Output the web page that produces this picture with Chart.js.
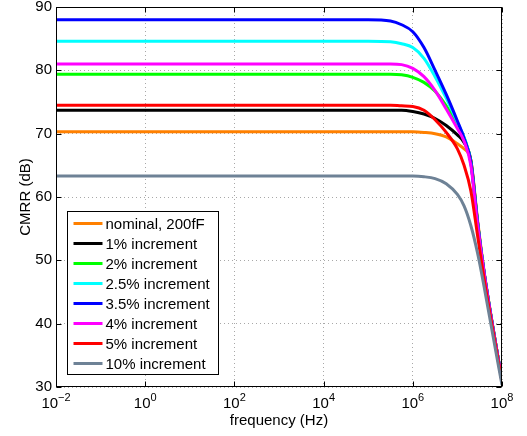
<!DOCTYPE html>
<html>
<head>
<meta charset="utf-8">
<script src="https://cdn.jsdelivr.net/npm/chart.js@4.4.1/dist/chart.umd.min.js"></script>
<style>
  html, body { margin: 0; padding: 0; background: #fff; }
  canvas { display: block; }
</style>
</head>
<body>
<canvas id="myChart" width="527" height="436"></canvas>
<script>
// frequency points (Hz)
const freq = [0.01, 1e5, 3.16e5, 5.62e5, 1e6, 1.78e6, 3.16e6, 5.62e6, 1e7, 1.41e7, 2e7, 2.82e7, 3.98e7, 6.31e7, 1e8];

const nominal = [70.3, 70.3, 70.3, 70.3, 70.3, 70.2, 70.0, 69.5, 68.4, 67.6, 65.8, 56.5, 48.2, 39.3, 31.0];
const inc1    = [73.7, 73.7, 73.7, 73.7, 73.5, 73.1, 72.4, 71.3, 69.8, 68.6, 65.8, 56.2, 48.0, 39.2, 31.0];
const inc2    = [79.4, 79.4, 79.4, 79.3, 78.9, 78.1, 76.7, 74.4, 71.4, 69.4, 65.5, 56.0, 48.0, 39.2, 31.0];
const inc25   = [84.6, 84.6, 84.5, 84.2, 83.6, 81.9, 79.0, 75.6, 71.8, 69.4, 65.5, 56.0, 48.0, 39.2, 31.0];
const inc35   = [88.0, 88.0, 87.8, 87.2, 86.1, 83.6, 80.0, 76.2, 72.0, 69.3, 65.5, 56.0, 48.0, 39.2, 31.0];
const inc4    = [81.0, 81.0, 81.0, 80.9, 80.3, 79.0, 76.8, 73.9, 70.8, 68.8, 65.0, 55.7, 47.9, 39.1, 31.0];
const inc5    = [74.5, 74.5, 74.5, 74.4, 74.3, 73.7, 72.2, 70.2, 67.6, 65.0, 61.0, 54.0, 47.0, 38.8, 30.8];
const inc10   = [63.3, 63.3, 63.3, 63.3, 63.3, 63.2, 62.9, 62.1, 60.4, 58.6, 55.5, 51.2, 45.8, 38.0, 30.3];

const labels = ['nominal, 200fF', '1% increment', '2% increment', '2.5% increment',
                '3.5% increment', '4% increment', '5% increment', '10% increment'];
const colors = ['#FF8000', '#000000', '#00FF00', '#00FFFF', '#0000FF', '#FF00FF', '#FF0000', '#6E8296'];
const series = [nominal, inc1, inc2, inc25, inc35, inc4, inc5, inc10];

const xTicks = [1e-2, 1e0, 1e2, 1e4, 1e6, 1e8];
const xExp = ['\u22122', '0', '2', '4', '6', '8'];
const yTicks = [30, 40, 50, 60, 70, 80, 90];

const FONT = "'Liberation Sans', Arial, sans-serif";

const datasets = series.map((s, i) => ({
    label: labels[i],
    data: s.map((v, j) => ({ x: freq[j], y: v })),
    borderColor: colors[i],
    backgroundColor: colors[i],
    borderWidth: 3,
    pointRadius: 0,
    cubicInterpolationMode: 'monotone',
    order: series.length - i
}));

const decor = {
    id: 'decor',
    afterDraw(chart) {
        const { ctx, chartArea: a, scales: { x, y } } = chart;
        ctx.save();
        ctx.strokeStyle = '#000';
        ctx.lineWidth = 1;
        const L = Math.round(a.left) + 0.5, R = Math.round(a.right) - 0.5;
        const T = Math.round(a.top) + 0.5, B = Math.round(a.bottom) - 0.5;
        ctx.beginPath();
        xTicks.forEach(v => {
            const px = Math.round(x.getPixelForValue(v)) + 0.5;
            ctx.moveTo(px, B); ctx.lineTo(px, B - 5);
            ctx.moveTo(px, T); ctx.lineTo(px, T + 5);
        });
        yTicks.forEach(v => {
            const py = Math.round(y.getPixelForValue(v)) + 0.5;
            ctx.moveTo(L, py); ctx.lineTo(L + 5, py);
            ctx.moveTo(R, py); ctx.lineTo(R - 5, py);
        });
        ctx.stroke();
        ctx.strokeRect(L, T, R - L, B - T);

        // x tick labels: 10 with superscript exponent
        ctx.fillStyle = '#000';
        ctx.textBaseline = 'alphabetic';
        ctx.textAlign = 'left';
        xTicks.forEach((v, i) => {
            const px = x.getPixelForValue(v);
            ctx.font = '15px ' + FONT;
            const w1 = ctx.measureText('10').width;
            ctx.font = '11px ' + FONT;
            const w2 = ctx.measureText(xExp[i]).width;
            const x0 = px - (w1 + w2) / 2;
            ctx.font = '15px ' + FONT;
            ctx.fillText('10', x0, a.bottom + 21);
            ctx.font = '11px ' + FONT;
            ctx.fillText(xExp[i], x0 + w1, a.bottom + 14);
        });

        // legend box, inside the axes at lower left
        const lx = Math.round(a.left) + 11.5, lb = Math.round(a.bottom) - 12.5;
        const lw = 151, lh = 163;
        const ly = lb - lh;
        ctx.fillStyle = '#fff';
        ctx.fillRect(lx, ly, lw, lh);
        ctx.strokeRect(lx, ly, lw, lh);
        ctx.font = '15px ' + FONT;
        ctx.textBaseline = 'middle';
        labels.forEach((t, i) => {
            const cy = ly + 12 + i * 20;
            ctx.strokeStyle = colors[i];
            ctx.lineWidth = 3;
            ctx.beginPath();
            ctx.moveTo(lx + 6, cy); ctx.lineTo(lx + 35, cy);
            ctx.stroke();
            ctx.fillStyle = '#000';
            ctx.fillText(t, lx + 38, cy + 1);
        });
        ctx.restore();
    }
};

new Chart(document.getElementById('myChart'), {
    type: 'line',
    data: { datasets: datasets },
    options: {
        responsive: false,
        animation: false,
        devicePixelRatio: 1,
        layout: { padding: { top: 7, right: 25, left: 0, bottom: 0 } },
        plugins: { legend: { display: false }, tooltip: { enabled: false } },
        scales: {
            x: {
                type: 'logarithmic',
                min: 1e-2,
                max: 1e8,
                afterBuildTicks: s => { s.ticks = xTicks.map(v => ({ value: v })); },
                afterFit: s => { s.height = 49; s.paddingLeft = 0; s.paddingRight = 0; },
                ticks: { display: false },
                grid: { color: '#a8a8a8', drawTicks: false, lineWidth: 1 },
                border: { display: false, dash: [1, 3] },
                title: {
                    display: true, text: 'frequency (Hz)', color: '#000',
                    font: { family: FONT, size: 15 }, padding: { top: 0, bottom: 6 }
                }
            },
            y: {
                min: 30,
                max: 90,
                afterBuildTicks: s => { s.ticks = yTicks.map(v => ({ value: v })); },
                afterFit: s => { s.width = 56; s.paddingTop = 0; s.paddingBottom = 0; },
                ticks: { color: '#000', padding: 4, font: { family: FONT, size: 15 } },
                grid: { color: '#a8a8a8', drawTicks: false, lineWidth: 1 },
                border: { display: false, dash: [1, 3] },
                title: {
                    display: true, text: 'CMRR (dB)', color: '#000',
                    font: { family: FONT, size: 15 }, padding: { top: 17, bottom: 0 }
                }
            }
        }
    },
    plugins: [decor]
});
</script>
</body>
</html>
